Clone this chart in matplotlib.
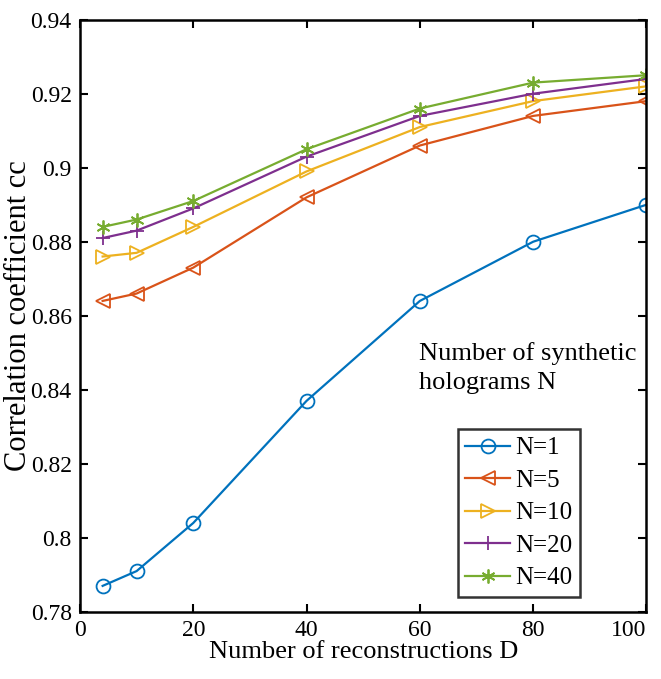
import matplotlib
matplotlib.use("Agg")
import matplotlib.pyplot as plt

# number of reconstructions D
d_values = [4, 10, 20, 40, 60, 80, 100]

# correlation coefficient for each number of synthetic holograms N
cc_n1 = [0.787, 0.791, 0.804, 0.837, 0.864, 0.880, 0.890]
cc_n5 = [0.864, 0.866, 0.873, 0.892, 0.906, 0.914, 0.918]
cc_n10 = [0.876, 0.877, 0.884, 0.899, 0.911, 0.918, 0.922]
cc_n20 = [0.881, 0.883, 0.889, 0.903, 0.914, 0.920, 0.924]
cc_n40 = [0.884, 0.886, 0.891, 0.905, 0.916, 0.923, 0.925]

labels = ["N=1", "N=5", "N=10", "N=20", "N=40"]
colors = ["#0072BD", "#D95319", "#EDB120", "#7E2F8E", "#77AC30"]
# matlab style asterisk for the last one
markers = ["o", "<", ">", "+", (6, 2, 0)]

plt.rcParams['font.family'] = ['Liberation Serif', 'DejaVu Serif']

fig = plt.figure(figsize=(6.61, 6.79), dpi=100)
ax = fig.add_axes([0.121, 0.099, 0.857, 0.872])

series = [cc_n1, cc_n5, cc_n10, cc_n20, cc_n40]
for ys, lab, c, m in zip(series, labels, colors, markers):
    ax.plot(d_values, ys, color=c, marker=m, markersize=10, fillstyle='none',
            markeredgewidth=1.3, linewidth=1.6, label=lab)

ax.set_xlim(0, 100)
ax.set_ylim(0.78, 0.94)
ax.set_xticks([0, 20, 40, 60, 80, 100])
ax.set_yticks([0.78, 0.8, 0.82, 0.84, 0.86, 0.88, 0.9, 0.92, 0.94])
ax.set_yticklabels(["0.78", "0.8", "0.82", "0.84", "0.86", "0.88", "0.9", "0.92", "0.94"])
ax.tick_params(direction='in', top=True, right=True, length=6, width=1.5,
               labelsize=17, pad=6)
# keep the last x label inside the figure
ax.get_xticklabels()[-1].set_horizontalalignment('right')
for sp in ax.spines.values():
    sp.set_linewidth(1.8)

ax.set_xlabel("Number of reconstructions D", fontsize=19, labelpad=0)
ax.set_ylabel("Correlation coefficient cc", fontsize=22, labelpad=-2)

ax.text(0.599, 0.455, "Number of synthetic\nholograms N", transform=ax.transAxes,
        fontsize=19, va='top', ha='left', linespacing=1.4)

leg = ax.legend(loc='lower left', bbox_to_anchor=(0.667, 0.025), fontsize=18,
                frameon=True, fancybox=False, edgecolor='black', handlelength=1.8,
                handletextpad=0.2, labelspacing=0.4, borderpad=0.3,
                borderaxespad=0)
leg.get_frame().set_linewidth(1.8)

fig.savefig("out.png", dpi=100)
